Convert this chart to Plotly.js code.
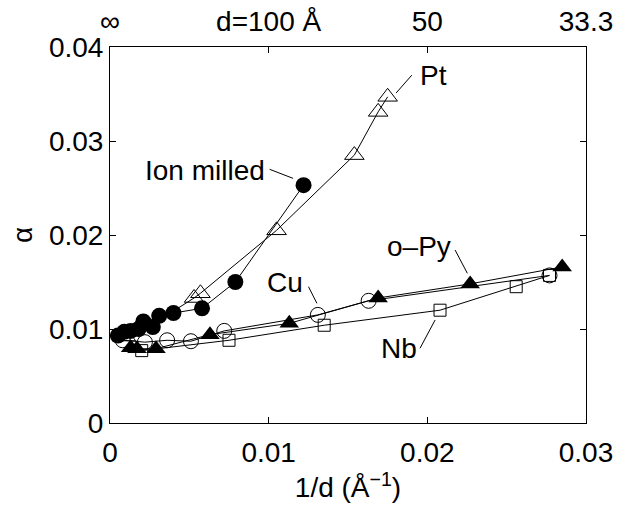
<!DOCTYPE html>
<html>
<head>
<meta charset="utf-8">
<script src="https://cdn.plot.ly/plotly-3.0.1.min.js"></script>
<style>html,body{margin:0;padding:0;background:#fff;}#chart{width:624px;height:508px;}</style>
</head>
<body>
<div id="chart"></div>
<script>
// Data (1/d in 1/Angstrom, alpha)
const ionX = [0.0005, 0.0009, 0.0013, 0.0018, 0.0021, 0.0027, 0.0031, 0.0040, 0.0058, 0.0079, 0.0122];
const ionY = [0.0093, 0.0097, 0.0098, 0.0100, 0.0108, 0.0102, 0.0114, 0.0117, 0.0122, 0.0150, 0.0253];
const ptX = [0.0010, 0.0025, 0.0053, 0.0057, 0.0105, 0.0154, 0.0169, 0.0175];
const ptY = [0.0092, 0.0103, 0.0133, 0.0138, 0.0205, 0.0285, 0.0331, 0.0347];
const cuX = [0.0008, 0.0022, 0.0036, 0.0051, 0.0072, 0.0131, 0.0163, 0.0277];
const cuY = [0.0088, 0.0086, 0.0088, 0.0087, 0.0098, 0.0115, 0.0130, 0.0157];
const pyX = [0.0013, 0.0017, 0.0029, 0.0063, 0.0113, 0.0169, 0.0227, 0.0285];
const pyY = [0.0080, 0.0079, 0.0079, 0.0094, 0.0106, 0.0133, 0.0148, 0.0166];
const nbX = [0.0020, 0.0075, 0.0135, 0.0208, 0.0277, null, 0.0256];
const nbY = [0.0077, 0.0088, 0.0104, 0.0120, 0.0157, null, 0.0145];
const xTicks = [0, 0.01, 0.02, 0.03];
const yTicks = [0, 0.01, 0.02, 0.03, 0.04];
const topTickText = ["\u221e", "d=100 \u00c5", "50", "33.3"];

const FONT = "Liberation Sans, Arial, Helvetica, sans-serif";
const FS = 28;
const line = {color: "black", width: 1};

const traces = [
  {x: ptX, y: ptY, mode: "lines+markers", line: line,
   marker: {symbol: "triangle-up-open", size: 17, color: "black", line: {width: 1}}},
  {x: nbX, y: nbY, mode: "lines+markers", line: line, connectgaps: false,
   marker: {symbol: "square-open", size: 12, color: "black", line: {width: 1}}},
  {x: cuX, y: cuY, mode: "lines+markers", line: line,
   marker: {symbol: "circle-open", size: 15, color: "black", line: {width: 1}}},
  {x: pyX, y: pyY, mode: "lines+markers", line: line,
   marker: {symbol: "triangle-up", size: 17, color: "black"}},
  {x: ionX, y: ionY, mode: "lines+markers", line: line,
   marker: {symbol: "circle", size: 16, color: "black"}},
  {x: [null], y: [null], xaxis: "x2", mode: "markers", hoverinfo: "skip"}
];

function leader(x0, y0, x1, y1) {
  return {type: "line", xref: "x", yref: "y", x0: x0, y0: y0, x1: x1, y1: y1,
          line: {color: "black", width: 1}};
}
function label(text, x, y, anchor) {
  return {text: text, x: x, y: y, xref: "x", yref: "y", showarrow: false,
          xanchor: anchor, yanchor: "middle", font: {family: FONT, size: FS, color: "black"}};
}

const layout = {
  width: 624, height: 508,
  margin: {l: 110, r: 38, t: 47, b: 85, pad: 0},
  showlegend: false,
  paper_bgcolor: "white", plot_bgcolor: "white",
  font: {family: FONT, size: FS, color: "black"},
  xaxis: {
    range: [0, 0.03], tickvals: xTicks, ticktext: ["0", "0.01", "0.02", "0.03"],
    showgrid: false, zeroline: false, showline: true, linecolor: "black", linewidth: 1,
    mirror: "ticks", ticks: "inside", ticklen: 6, tickcolor: "black",
    ticklabelstandoff: 4,
    tickfont: {family: FONT, size: FS},
    title: {text: "1/d (\u00c5<sup>\u22121</sup>)", font: {family: FONT, size: FS}, standoff: 4}
  },
  xaxis2: {
    range: [0, 0.03], overlaying: "x", side: "top", anchor: "y",
    tickvals: xTicks, ticktext: topTickText, ticks: "", showline: false,
    ticklabelstandoff: 9,
    showgrid: false, zeroline: false, tickfont: {family: FONT, size: FS}
  },
  yaxis: {
    range: [0, 0.04], tickvals: yTicks, ticktext: ["0", "0.01", "0.02", "0.03", "0.04"],
    showgrid: false, zeroline: false, showline: true, linecolor: "black", linewidth: 1,
    mirror: "ticks", ticks: "inside", ticklen: 6, tickcolor: "black",
    tickfont: {family: FONT, size: FS},
    title: {text: "\u03b1", font: {family: FONT, size: FS}, standoff: 8}
  },
  shapes: [
    leader(0.01902, 0.0370, 0.01803, 0.0351),
    leader(0.01006, 0.02699, 0.01153, 0.02603),
    leader(0.01251, 0.0145, 0.01304, 0.01273),
    leader(0.02175, 0.0184, 0.02252, 0.01593),
    leader(0.01954, 0.00795, 0.02049, 0.01096)
  ],
  annotations: [
    label("Pt", 0.0194, 0.0370, "left"),
    label("Ion milled", 0.0099, 0.0269, "right"),
    label("Cu", 0.01105, 0.0150, "center"),
    label("o\u2013Py", 0.0195, 0.0188, "center"),
    label("Nb", 0.0182, 0.0079, "center")
  ]
};

Plotly.newPlot("chart", traces, layout, {staticPlot: true, displayModeBar: false});
</script>
</body>
</html>
